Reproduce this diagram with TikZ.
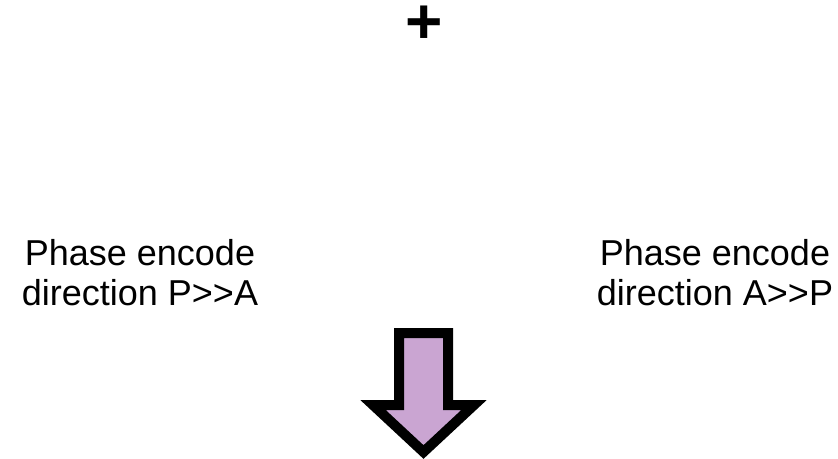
\documentclass[tikz,border=0pt]{standalone}
\usepackage{fontspec}
\setmainfont{Liberation Sans}
\usepackage{tikz}
\usepackage{xcolor}
\definecolor{arrowfill}{RGB}{202,165,210}
\tikzstyle{pelabel} = [align=center, inner sep=0pt, font=\fontsize{36}{40}\selectfont]
\tikzstyle{bigarrow} = [draw=black, fill=arrowfill, line width=10pt, line join=miter]

\begin{document}
\begin{tikzpicture}[x=1pt, y=-1pt]
\useasboundingbox (0,0) rectangle (838,458);

\node (plus) at (424,25) [inner sep=0pt, font=\fontsize{64}{64}\selectfont\bfseries] {+};
\node (pa)   at (140,273) [pelabel] {Phase encode\\direction P>\kern0pt>A};
\node (ap)   at (715,273) [pelabel] {Phase encode\\direction A>\kern0pt>P};

\draw[bigarrow] (399,333) -- (448,333) -- (448,405) -- (474,405) -- (423.5,452) -- (373,405) -- (399,405) -- cycle;

\end{tikzpicture}
\end{document}
